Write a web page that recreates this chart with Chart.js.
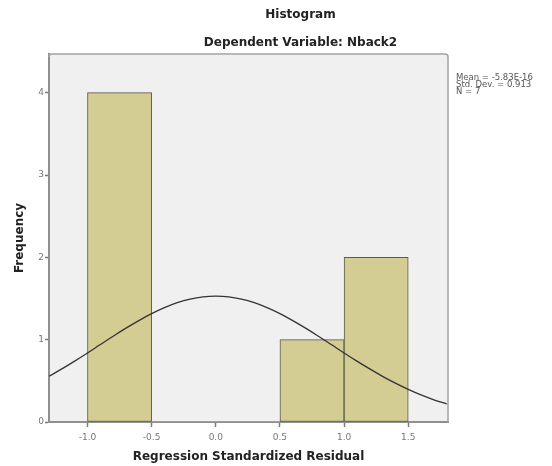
<!DOCTYPE html>
<html>
<head>
<meta charset="utf-8">
<script src="https://cdn.jsdelivr.net/npm/chart.js@4/dist/chart.umd.min.js"></script>
<style>
  html, body { margin: 0; padding: 0; background: #ffffff; }
  #wrap { width: 552px; height: 466px; position: relative; }
</style>
</head>
<body>
<div id="wrap"><canvas id="hist"></canvas></div>
<script>
// Histogram bins (centre of each 0.5-wide bin) and their counts
const binCenters = [-0.75, -0.25, 0.25, 0.75, 1.25];
const frequencies = [4, 0, 0, 1, 2];

// Normal curve overlay (mean ~0, SD 0.913, scaled to N = 7, bin width 0.5)
const curveX = [-1.3, -1.2, -1.1, -1.0, -0.9, -0.8, -0.7, -0.6, -0.5, -0.4, -0.3, -0.2, -0.1, 0.0,
                 0.1, 0.2, 0.3, 0.4, 0.5, 0.6, 0.7, 0.8, 0.9, 1.0, 1.1, 1.2, 1.3, 1.4, 1.5, 1.6, 1.7, 1.8];
const curveY = [0.555, 0.645, 0.740, 0.839, 0.941, 1.042, 1.140, 1.232, 1.316, 1.389, 1.449, 1.493, 1.520, 1.529,
                1.520, 1.493, 1.449, 1.389, 1.316, 1.232, 1.140, 1.042, 0.941, 0.839, 0.740, 0.645, 0.555, 0.472, 0.397, 0.329, 0.270, 0.219];

// Axis ticks
const xTickValues = [-1.0, -0.5, 0.0, 0.5, 1.0, 1.5];
const yTickValues = [0, 1, 2, 3, 4];

// Text
const chartTitle = 'Histogram';
const chartSubtitle = 'Dependent Variable: Nback2';
const xAxisTitle = 'Regression Standardized Residual';
const yAxisTitle = 'Frequency';
const statsLines = ['Mean = -5.83E-16', 'Std. Dev. = 0.913', 'N = 7'];

const FONT = '"DejaVu Sans", Verdana, sans-serif';

// Plot panel background, frame, titles and the summary statistics
const panelPlugin = {
  id: 'panel',
  beforeDraw(chart) {
    const { ctx, chartArea: a } = chart;
    ctx.save();
    ctx.fillStyle = '#f0f0f0';
    ctx.beginPath();
    ctx.roundRect(a.left, a.top, a.right - a.left, a.bottom - a.top, 3);
    ctx.fill();
    ctx.restore();
  },
  afterDatasetsDraw(chart) {
    const { ctx, chartArea: a } = chart;
    ctx.save();
    ctx.strokeStyle = '#a3a3a3';
    ctx.lineWidth = 1.5;
    ctx.beginPath();
    ctx.moveTo(a.left, a.top + 3);
    ctx.arcTo(a.left, a.top, a.left + 3, a.top, 3);
    ctx.lineTo(a.right - 3, a.top);
    ctx.arcTo(a.right, a.top, a.right, a.top + 3, 3);
    ctx.lineTo(a.right, a.bottom);
    ctx.stroke();
    ctx.restore();
  },
  afterDraw(chart) {
    const { ctx, chartArea: a, width } = chart;
    ctx.save();
    ctx.fillStyle = '#222222';
    ctx.textAlign = 'center';
    ctx.textBaseline = 'middle';
    ctx.font = 'bold 12px ' + FONT;
    const cx = (a.left + width) / 2;
    ctx.fillText(chartTitle, cx, 15);
    ctx.fillText(chartSubtitle, cx, 43);

    ctx.fillStyle = '#555555';
    ctx.textAlign = 'left';
    ctx.font = '8.5px ' + FONT;
    statsLines.forEach((s, i) => ctx.fillText(s, a.right + 8, 78 + i * 7));
    ctx.restore();
  }
};

new Chart(document.getElementById('hist'), {
  data: {
    datasets: [
      {
        type: 'line',
        order: 0,
        data: curveX.map((x, i) => ({ x: x, y: curveY[i] })),
        borderColor: '#333333',
        borderWidth: 1.3,
        pointRadius: 0,
        tension: 0.4,
        fill: false
      },
      {
        type: 'bar',
        order: 1,
        data: binCenters.map((x, i) => ({ x: x, y: frequencies[i] })),
        backgroundColor: '#d3cd93',
        borderColor: '#5b5a47',
        borderWidth: (c) => (c.raw && c.raw.y ? 1 : 0),
        borderSkipped: false,
        barPercentage: 1.0,
        categoryPercentage: 1.0
      }
    ]
  },
  options: {
    responsive: true,
    maintainAspectRatio: false,
    animation: false,
    layout: { padding: { top: 54, right: 104, left: 0, bottom: 0 } },
    plugins: {
      legend: { display: false },
      tooltip: { enabled: false },
      title: { display: false }
    },
    scales: {
      x: {
        type: 'linear',
        offset: false,
        min: -1.3,
        max: 1.81,
        afterBuildTicks: (s) => { s.ticks = xTickValues.map(v => ({ value: v })); },
        afterFit: (s) => { s.height = 44; },
        grid: { offset: false, drawOnChartArea: false, drawTicks: true, tickLength: 5, tickColor: '#7a7a7a', tickWidth: 1.5 },
        border: { display: true, color: '#8f8f8f', width: 2 },
        ticks: {
          padding: 5,
          color: '#777777',
          font: { family: FONT, size: 9 },
          callback: (v) => Number(v).toFixed(1)
        },
        title: {
          display: true,
          text: xAxisTitle,
          color: '#222222',
          font: { family: FONT, size: 12, weight: 'bold' },
          padding: { top: 0, bottom: 2 }
        }
      },
      y: {
        type: 'linear',
        min: 0,
        max: 4.47,
        afterBuildTicks: (s) => { s.ticks = yTickValues.map(v => ({ value: v })); },
        afterFit: (s) => { s.width = 49; },
        grid: { drawOnChartArea: false, drawTicks: true, tickLength: 4, tickColor: '#7a7a7a', tickWidth: 1.5 },
        border: { display: true, color: '#8f8f8f', width: 2 },
        ticks: {
          padding: 1,
          color: '#777777',
          font: { family: FONT, size: 9 },
          callback: (v) => String(v)
        },
        title: {
          display: true,
          text: yAxisTitle,
          color: '#222222',
          font: { family: FONT, size: 12, weight: 'bold' },
          padding: { top: 13, bottom: 0 }
        }
      }
    }
  },
  plugins: [panelPlugin]
});
</script>
</body>
</html>
